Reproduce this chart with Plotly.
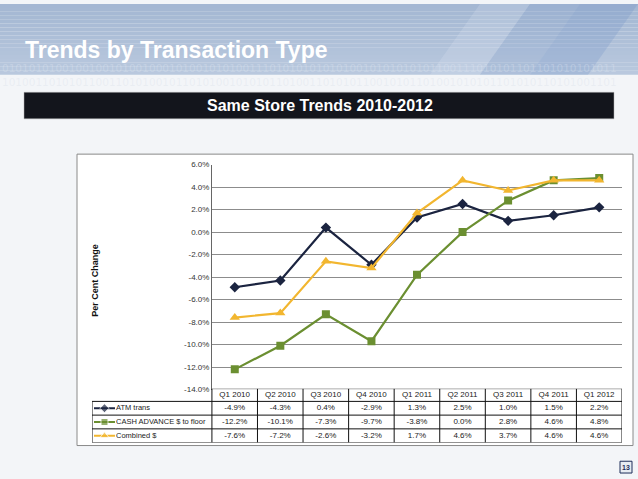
import plotly.graph_objects as go

# quarters shown along the table header
quarters = ["Q1 2010", "Q2 2010", "Q3 2010", "Q4 2010", "Q1 2011",
            "Q2 2011", "Q3 2011", "Q4 2011", "Q1 2012"]

# per cent change, same store
atm_trans = [-4.9, -4.3, 0.4, -2.9, 1.3, 2.5, 1.0, 1.5, 2.2]
cash_advance = [-12.2, -10.1, -7.3, -9.7, -3.8, 0.0, 2.8, 4.6, 4.8]
combined = [-7.6, -7.2, -2.6, -3.2, 1.7, 4.6, 3.7, 4.6, 4.6]

series_names = ["ATM trans", "CASH ADVANCE $ to floor", "Combined $"]
y_ticks = [6, 4, 2, 0, -2, -4, -6, -8, -10, -12, -14]

W, H = 638, 479
colors = ["#1b2440", "#6b8f31", "#f2b62f"]
symbols = ["diamond", "square", "triangle-up"]
sizes = [8, 8, 9]
table_font = dict(family="Liberation Sans", size=8, color="#222")
name_font = dict(family="Liberation Sans", size=7.5, color="#222")


def px_x(v):
    return v / W


def px_y(v):
    return 1 - v / H


fig = go.Figure()
all_series = [atm_trans, cash_advance, combined]

# main chart lines
x_idx = list(range(len(quarters)))
for name, vals, c, s, sz in zip(series_names, all_series, colors, symbols, sizes):
    fig.add_trace(go.Scatter(
        x=x_idx, y=vals, name=name, mode="lines+markers",
        line=dict(color=c, width=2.2),
        marker=dict(symbol=s, size=sz, color=c),
        showlegend=False, xaxis="x", yaxis="y"))

# ---- data table under the chart, drawn on its own axes (pixel-like units)
col_w = [120] + [45.6] * len(quarters)
col_edges = [0]
for w in col_w:
    col_edges.append(col_edges[-1] + w)
row_h = [13, 14, 14, 14]
row_edges = [0]
for h in row_h:
    row_edges.append(row_edges[-1] + h)
col_mid = [(a + b) / 2 for a, b in zip(col_edges[:-1], col_edges[1:])]
row_mid = [(a + b) / 2 for a, b in zip(row_edges[:-1], row_edges[1:])]

# header row
fig.add_trace(go.Scatter(
    x=col_mid[1:], y=[row_mid[0]] * len(quarters), text=quarters, mode="text",
    textposition="middle center", textfont=table_font, cliponaxis=False,
    showlegend=False, hoverinfo="skip", xaxis="x2", yaxis="y2"))
for i, (name, vals, c, s, sz) in enumerate(zip(series_names, all_series, colors, symbols, sizes)):
    # values
    fig.add_trace(go.Scatter(
        x=col_mid[1:], y=[row_mid[i + 1]] * len(vals), text=[f"{v:.1f}%" for v in vals],
        mode="text", textposition="middle center", textfont=table_font, cliponaxis=False,
        showlegend=False, hoverinfo="skip", xaxis="x2", yaxis="y2"))
    # legend key + name
    fig.add_trace(go.Scatter(
        x=[2, 12.5, 23], y=[row_mid[i + 1]] * 3, mode="lines+markers",
        line=dict(color=c, width=2.2),
        marker=dict(symbol=s, size=[0, sz - 1, 0], color=c),
        showlegend=False, hoverinfo="skip", cliponaxis=False, xaxis="x2", yaxis="y2"))
    fig.add_trace(go.Scatter(
        x=[24], y=[row_mid[i + 1]], text=[name], mode="text",
        textposition="middle right", textfont=name_font, cliponaxis=False,
        showlegend=False, hoverinfo="skip", xaxis="x2", yaxis="y2"))

shapes = []
# blue header band, stacked strips for a soft gradient
n_strips = 18
for k in range(n_strips):
    t = k / (n_strips - 1)
    r = int(0xa4 + (0xb9 - 0xa4) * t)
    g = int(0xb7 + (0xc8 - 0xb7) * t)
    b = int(0xd3 + (0xde - 0xd3) * t)
    shapes.append(dict(type="rect", xref="paper", yref="paper", layer="below",
                       x0=0, x1=1, y0=px_y(72 * (k + 1) / n_strips), y1=px_y(72 * k / n_strips),
                       fillcolor=f"rgb({r},{g},{b})", line=dict(width=0)))
# soft streaks on the right of the header
for x0, x1, col in [(480, 530, "rgba(235,240,248,0.18)"), (530, 580, "rgba(120,150,200,0.16)"),
                    (580, 638, "rgba(100,135,195,0.22)")]:
    shapes.append(dict(type="path", xref="paper", yref="paper", layer="below",
                       path=f"M {px_x(x0)},{px_y(0)} L {px_x(x1)},{px_y(0)} L {px_x(x1 - 50)},{px_y(72)} L {px_x(x0 - 50)},{px_y(72)} Z",
                       fillcolor=col, line=dict(width=0)))
# black banner
shapes.append(dict(type="rect", xref="paper", yref="paper", layer="below",
                   x0=px_x(24), x1=px_x(614), y0=px_y(117), y1=px_y(90),
                   fillcolor="#13151c", line=dict(color="#b0b0b0", width=0.5)))
# white chart box
shapes.append(dict(type="rect", xref="paper", yref="paper", layer="below",
                   x0=px_x(77), x1=px_x(633), y0=px_y(450), y1=px_y(153),
                   fillcolor="white", line=dict(color="#8a8a8a", width=1)))
# page number box
shapes.append(dict(type="rect", xref="paper", yref="paper",
                   x0=px_x(620), x1=px_x(632), y0=px_y(478), y1=px_y(466),
                   fillcolor="#e8ecf2", line=dict(color="#1e2e5a", width=1)))

# table grid lines
grid = dict(color="#111", width=1)
shapes.append(dict(type="line", xref="x2", yref="y2", x0=col_edges[1], x1=col_edges[-1],
                   y0=row_edges[0], y1=row_edges[0], line=grid))
for yv in row_edges[1:]:
    shapes.append(dict(type="line", xref="x2", yref="y2", x0=col_edges[0], x1=col_edges[-1],
                       y0=yv, y1=yv, line=grid))
shapes.append(dict(type="line", xref="x2", yref="y2", x0=col_edges[0], x1=col_edges[0],
                   y0=row_edges[1], y1=row_edges[-1], line=grid))
for xv in col_edges[1:]:
    shapes.append(dict(type="line", xref="x2", yref="y2", x0=xv, x1=xv,
                       y0=row_edges[0], y1=row_edges[-1], line=grid))

binary1 = "01010101001001001010010001010010101001110101010101010010101010101100111010101101101010101011"
binary2 = "10100110101011001101010010110101001010101101001101010110010101101001010101101010110101001101"
binary_text = (f"<span style='color:rgba(230,236,246,0.55)'>{binary1}</span><br>"
               f"<span style='color:rgba(200,210,225,0.4)'>{binary2}</span>")

annotations = [
    dict(text="Trends by Transaction Type", x=px_x(23), y=px_y(47), xref="paper", yref="paper",
         xanchor="left", yanchor="middle", showarrow=False,
         font=dict(family="Liberation Sans", size=23, color="white", weight="bold")),
    dict(text=binary_text, x=0, y=px_y(72), xref="paper", yref="paper", align="left",
         xanchor="left", yanchor="middle", showarrow=False,
         font=dict(family="DejaVu Sans", size=10.5, color="rgba(228,234,244,0.55)")),
    dict(text="Same Store Trends 2010-2012", x=px_x(320), y=px_y(103.5), xref="paper", yref="paper",
         xanchor="center", yanchor="middle", showarrow=False,
         font=dict(family="Liberation Sans", size=16, color="white", weight="bold")),
    dict(text="Per Cent Change", x=px_x(95), y=px_y(282), xref="paper", yref="paper",
         textangle=-90, xanchor="center", yanchor="middle", showarrow=False,
         font=dict(family="Liberation Sans", size=9, color="#111", weight="bold")),
    dict(text="13", x=px_x(626), y=px_y(472), xref="paper", yref="paper",
         xanchor="center", yanchor="middle", showarrow=False,
         font=dict(family="Liberation Sans", size=7, color="#1e2e5a", weight="bold")),
]

fig.update_layout(
    width=W, height=H,
    margin=dict(l=0, r=0, t=0, b=0),
    paper_bgcolor="#f3f5f8",
    plot_bgcolor="rgba(0,0,0,0)",
    shapes=shapes,
    annotations=annotations,
    xaxis=dict(domain=[px_x(212), px_x(622)], range=[-0.5, len(quarters) - 0.5],
               showticklabels=False, showgrid=False, zeroline=False, ticks="", fixedrange=True),
    yaxis=dict(domain=[px_y(393), px_y(163.7)], range=[-14, 6],
               tickvals=y_ticks, ticktext=[f"{v:.1f}%" for v in y_ticks],
               showgrid=True, gridcolor="#8c8c8c", gridwidth=1, zeroline=False,
               showline=True, linecolor="#666", linewidth=1,
               ticks="", ticklen=0, tickfont=dict(family="Liberation Sans", size=8, color="#333")),
    xaxis2=dict(domain=[px_x(92), px_x(622)], range=[0, col_edges[-1]], visible=False, anchor="y2"),
    yaxis2=dict(domain=[px_y(447), px_y(392)], range=[row_edges[-1], 0], visible=False, anchor="x2"),
    font=dict(family="Liberation Sans"),
)

fig.write_html("out.html", config={"displayModeBar": False},
               post_script="document.body.style.margin='0';document.body.style.overflow='hidden';")
